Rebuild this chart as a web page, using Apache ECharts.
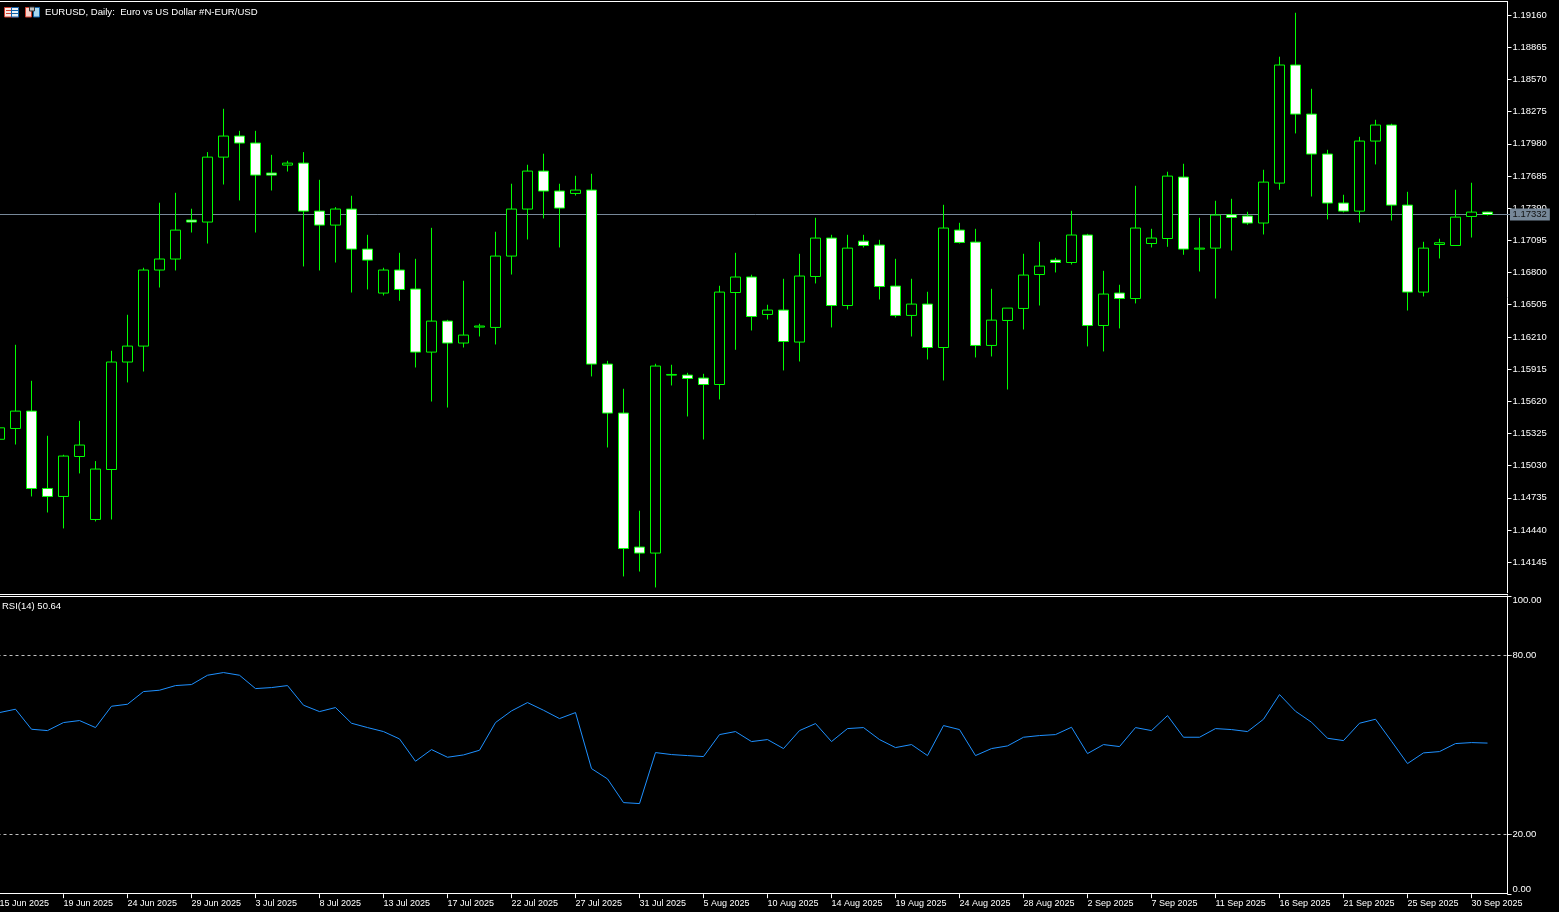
<!DOCTYPE html>
<html>
<head>
<meta charset="utf-8">
<script src="https://cdn.jsdelivr.net/npm/echarts@6/dist/echarts.min.js"></script>
<style>html,body{margin:0;padding:0;background:#000;}#c{width:1559px;height:912px;}</style>
</head>
<body>
<div id="c"></div>
<script>
const dates = ['15 Jun 2025','16 Jun 2025','17 Jun 2025','18 Jun 2025','19 Jun 2025','20 Jun 2025','22 Jun 2025','23 Jun 2025','24 Jun 2025','25 Jun 2025','26 Jun 2025','27 Jun 2025','29 Jun 2025','30 Jun 2025',
'1 Jul 2025','2 Jul 2025','3 Jul 2025','4 Jul 2025','6 Jul 2025','7 Jul 2025','8 Jul 2025','9 Jul 2025','10 Jul 2025','11 Jul 2025','13 Jul 2025','14 Jul 2025','15 Jul 2025','16 Jul 2025','17 Jul 2025','18 Jul 2025','20 Jul 2025','21 Jul 2025','22 Jul 2025','23 Jul 2025','24 Jul 2025','25 Jul 2025','27 Jul 2025','28 Jul 2025','29 Jul 2025','30 Jul 2025','31 Jul 2025',
'1 Aug 2025','3 Aug 2025','4 Aug 2025','5 Aug 2025','6 Aug 2025','7 Aug 2025','8 Aug 2025','10 Aug 2025','11 Aug 2025','12 Aug 2025','13 Aug 2025','14 Aug 2025','15 Aug 2025','17 Aug 2025','18 Aug 2025','19 Aug 2025','20 Aug 2025','21 Aug 2025','22 Aug 2025','24 Aug 2025','25 Aug 2025','26 Aug 2025','27 Aug 2025','28 Aug 2025','29 Aug 2025','31 Aug 2025',
'1 Sep 2025','2 Sep 2025','3 Sep 2025','4 Sep 2025','5 Sep 2025','7 Sep 2025','8 Sep 2025','9 Sep 2025','10 Sep 2025','11 Sep 2025','12 Sep 2025','14 Sep 2025','15 Sep 2025','16 Sep 2025','17 Sep 2025','18 Sep 2025','19 Sep 2025','21 Sep 2025','22 Sep 2025','23 Sep 2025','24 Sep 2025','25 Sep 2025','26 Sep 2025','28 Sep 2025','29 Sep 2025','30 Sep 2025','1 Oct 2025',''];

const opens = [1.15272,1.15371,1.15530,1.14821,1.14748,1.15114,1.14537,1.14995,1.15980,1.16126,1.16823,1.16924,1.17281,1.17263,1.17858,1.18051,1.17987,1.17712,1.17785,1.17803,1.17363,1.17235,1.17382,1.17015,1.16612,1.16823,1.16649,1.16071,1.16355,1.16154,1.16300,1.16297,1.16951,1.17382,1.17730,1.17547,1.17525,1.17556,1.15961,1.15512,1.14284,1.14229,1.15860,1.15860,1.15833,1.15774,1.16617,1.16759,1.16416,1.16456,1.16163,1.16764,1.17116,1.16498,1.17088,1.17052,1.16676,1.16407,1.16511,1.16113,1.17189,1.17079,1.16132,1.16361,1.16471,1.16782,1.16914,1.16892,1.17144,1.16315,1.16612,1.16562,1.17066,1.17112,1.17675,1.17015,1.17024,1.17330,1.17318,1.17254,1.17620,1.18702,1.18252,1.17886,1.17437,1.17363,1.18005,1.18152,1.17418,1.16621,1.17057,1.17048,1.17314,1.17354];
const closes = [1.15377,1.15530,1.14821,1.14748,1.15118,1.15219,1.14999,1.15980,1.16126,1.16823,1.16924,1.17189,1.17263,1.17858,1.18051,1.17987,1.17693,1.17693,1.17803,1.17363,1.17235,1.17382,1.17015,1.16914,1.16823,1.16645,1.16071,1.16355,1.16154,1.16227,1.16310,1.16951,1.17382,1.17730,1.17547,1.17391,1.17556,1.15961,1.15512,1.14271,1.14229,1.15943,1.15866,1.15829,1.15774,1.16621,1.16759,1.16397,1.16456,1.16168,1.16768,1.17116,1.16498,1.17024,1.17048,1.16672,1.16407,1.16511,1.16113,1.17208,1.17076,1.16132,1.16364,1.16474,1.16777,1.16859,1.16892,1.17144,1.16315,1.16603,1.16562,1.17208,1.17116,1.17684,1.17015,1.17024,1.17327,1.17305,1.17254,1.17629,1.18702,1.18252,1.17886,1.17437,1.17363,1.18005,1.18152,1.17418,1.16621,1.17024,1.17073,1.17308,1.17354,1.17332];
const lows = [1.15222,1.15224,1.14748,1.14601,1.14455,1.14959,1.14519,1.14537,1.15793,1.15893,1.16663,1.16819,1.17167,1.17066,1.17607,1.17461,1.17167,1.17552,1.17726,1.16856,1.16819,1.16892,1.16617,1.16645,1.16590,1.16541,1.15930,1.15618,1.15563,1.16113,1.16214,1.16141,1.16782,1.17103,1.17296,1.17030,1.17506,1.15848,1.15197,1.14015,1.14060,1.13914,1.15765,1.15481,1.15270,1.15637,1.16092,1.16269,1.16370,1.15903,1.15985,1.16700,1.16297,1.16462,1.17030,1.16553,1.16388,1.16214,1.16003,1.15811,1.17066,1.16022,1.16031,1.15728,1.16278,1.16498,1.16801,1.16874,1.16123,1.16077,1.16288,1.16517,1.17030,1.17036,1.16963,1.16810,1.16562,1.17002,1.17238,1.17149,1.17559,1.18075,1.17497,1.17287,1.17351,1.17259,1.17791,1.17277,1.16452,1.16581,1.16929,1.17048,1.17121,1.17323];
const highs = [1.15405,1.16138,1.15808,1.15304,1.15130,1.15441,1.15072,1.16083,1.16413,1.16844,1.17440,1.17531,1.17385,1.17904,1.18301,1.18099,1.18099,1.17879,1.17824,1.17904,1.17650,1.17400,1.17504,1.17146,1.16844,1.16981,1.16926,1.17210,1.16367,1.16725,1.16331,1.17174,1.17614,1.17788,1.17889,1.17614,1.17687,1.17705,1.15991,1.15735,1.14617,1.15964,1.15955,1.15881,1.15872,1.16679,1.16981,1.16780,1.16505,1.16743,1.16972,1.17302,1.17146,1.17146,1.17146,1.17100,1.16926,1.16743,1.16624,1.17421,1.17256,1.17201,1.16651,1.16474,1.16972,1.17082,1.16935,1.17366,1.17155,1.16816,1.16688,1.17595,1.17201,1.17724,1.17797,1.17302,1.17458,1.17476,1.17357,1.17742,1.18778,1.19181,1.18484,1.17925,1.17513,1.18044,1.18200,1.18164,1.17540,1.17082,1.17110,1.17559,1.17623,1.17357];

const rsi = [60.87,61.99,55.28,54.83,57.52,58.19,55.84,62.99,63.66,67.91,68.36,69.92,70.26,73.38,74.28,73.38,68.91,69.25,69.92,63.33,61.20,62.55,57.29,55.84,54.50,52.04,44.55,48.46,45.89,46.67,48.24,57.52,61.43,64.22,61.65,58.86,60.87,42.09,38.63,30.69,30.36,47.46,46.79,46.45,46.12,53.49,54.50,51.15,51.82,48.80,54.83,57.18,51.15,55.50,55.84,51.82,49.13,50.14,46.45,56.51,55.17,46.45,48.80,49.69,52.60,53.16,53.49,55.95,47.12,50.14,49.47,55.84,54.83,59.86,52.60,52.60,55.50,55.17,54.50,58.63,66.90,61.31,57.63,52.26,51.48,57.29,58.63,51.26,43.77,47.35,47.79,50.48,50.81,50.64];

const priceTicks = [1.14145,1.14440,1.14735,1.15030,1.15325,1.15620,1.15915,1.16210,1.16505,1.16800,1.17095,1.17390,1.17685,1.17980,1.18275,1.18570,1.18865,1.19160];
const rsiTicks = [0,20,80,100];
const rsiLevels = [80,20];
const lastPrice = 1.17332;
const titleText = 'EURUSD, Daily:  Euro vs US Dollar #N-EUR/USD';
const rsiText = 'RSI(14) 50.64';

const green = '#00ff00';
const font = 'Liberation Sans';
const candles = opens.map((o, i) => [o, closes[i], lows[i], highs[i]]);
const hline = (y, x2) => ({type:'line', silent:true, z:100, shape:{x1:0, y1:y, x2:x2, y2:y}, style:{stroke:'#fff', lineWidth:1}});

const chart = echarts.init(document.getElementById('c'), null, {renderer:'canvas', width:1559, height:912});
chart.setOption({
  animation:false,
  backgroundColor:'#000',
  title:[
    {text:titleText, left:45, top:7, padding:0, textStyle:{color:'#fff', fontFamily:font, fontSize:9.6, fontWeight:'normal'}},
    {text:rsiText, left:2, top:601, padding:0, textStyle:{color:'#fff', fontFamily:font, fontSize:9.5, fontWeight:'normal'}}
  ],
  grid:[
    {left:-8.5, top:1.75, width:1520, height:591, outerBoundsMode:'none'},
    {left:-8.5, top:595.83, width:1520, height:298.33, outerBoundsMode:'none'}
  ],
  xAxis:[
    {type:'category', gridIndex:0, data:dates, show:false, boundaryGap:true},
    {type:'category', gridIndex:1, data:dates, boundaryGap:true,
      axisLine:{show:false},
      axisTick:{show:true, alignWithLabel:true, interval:3, length:4, lineStyle:{color:'#fff'}},
      axisLabel:{show:true, interval:3, color:'#fff', fontFamily:font, fontSize:9, align:'left', margin:4.5, hideOverlap:false},
      splitLine:{show:false}}
  ],
  yAxis:[
    {type:'value', gridIndex:0, position:'right', offset:-4, scale:true, min:1.138654, max:1.192819,
      axisLine:{show:true, lineStyle:{color:'#fff'}},
      axisTick:{show:true, length:4, lineStyle:{color:'#fff'}, customValues:priceTicks},
      axisLabel:{show:true, color:'#fff', fontFamily:font, fontSize:9.5, margin:5, customValues:priceTicks, formatter:v => v.toFixed(5)},
      splitLine:{show:false}},
    {type:'value', gridIndex:1, position:'right', offset:-4, min:0, max:100,
      axisLine:{show:true, lineStyle:{color:'#fff'}},
      axisTick:{show:true, length:4, lineStyle:{color:'#fff'}, customValues:rsiTicks},
      axisLabel:{show:true, color:'#fff', fontFamily:font, fontSize:9.5, margin:5, customValues:rsiTicks, formatter:v => v.toFixed(2),
        verticalAlignMaxLabel:'top', verticalAlignMinLabel:'bottom'},
      splitLine:{show:false}}
  ],
  series:[
    {type:'candlestick', xAxisIndex:0, yAxisIndex:0, data:candles, barWidth:10, z:10,
      itemStyle:{color:'#000', color0:'#fff', borderColor:green, borderColor0:green, borderWidth:1},
      markLine:{silent:true, z:1, symbol:'none', animation:false, precision:5,
        data:[{yAxis:lastPrice}],
        lineStyle:{color:'#778899', type:'solid', width:1},
        label:{show:true, position:'end', distance:-1.5, formatter:() => lastPrice.toFixed(5), color:'#111', backgroundColor:'#778899', padding:[1,3,1,2.5], fontFamily:font, fontSize:9.5}}},
    {type:'line', xAxisIndex:1, yAxisIndex:1, data:rsi, showSymbol:false, symbol:'none', z:5,
      lineStyle:{color:'#1e90ff', width:1},
      markLine:{silent:true, symbol:'none', animation:false, data:rsiLevels.map(v => ({yAxis:v})),
        lineStyle:{color:'#c0c0c0', type:[3,3], width:1}, label:{show:false}}}
  ],
  graphic:{elements:[
    hline(1.5, 1508), hline(594.5, 1508), hline(596.5, 1508), hline(893.5, 1508),
    {type:'group', silent:true, z:100, children:[
      {type:'rect', shape:{x:4.5,y:7.5,width:14,height:9.5}, style:{fill:'#f8e8e4', stroke:'#d04030'}},
      {type:'rect', shape:{x:11.5,y:7.5,width:7,height:9.5}, style:{fill:'#e8f0f8', stroke:'#1060a8'}},
      {type:'line', shape:{x1:6,y1:10.5,x2:11,y2:10.5}, style:{stroke:'#d04030'}},
      {type:'line', shape:{x1:6,y1:13.5,x2:11,y2:13.5}, style:{stroke:'#d04030'}},
      {type:'line', shape:{x1:12,y1:10.5,x2:18,y2:10.5}, style:{stroke:'#1060a8'}},
      {type:'line', shape:{x1:12,y1:13.5,x2:18,y2:13.5}, style:{stroke:'#1060a8'}},
      {type:'rect', shape:{x:25.5,y:7.5,width:6,height:9.5}, style:{fill:'#f8d0c8', stroke:'#d04030'}},
      {type:'rect', shape:{x:33.5,y:7.5,width:6,height:9.5}, style:{fill:'#a8d8f0', stroke:'#1060a8'}},
      {type:'rect', shape:{x:29.5,y:7,width:5,height:4}, style:{fill:'#c0c0c0', stroke:'#303030', lineWidth:1}}
    ]}
  ]}
});
</script>
</body>
</html>
